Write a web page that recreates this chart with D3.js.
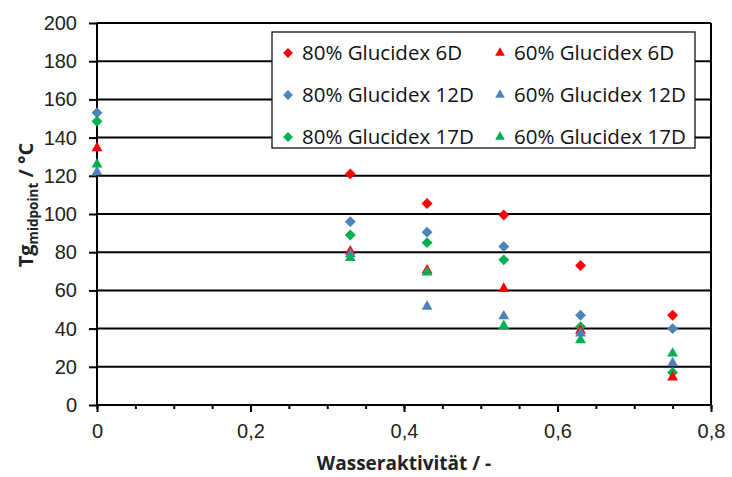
<!DOCTYPE html>
<html lang="de">
<head>
<meta charset="utf-8">
<script src="https://d3js.org/d3.v7.min.js"></script>
<style>
body { margin: 0; background: #fff; }
svg { font-family: "Open Sans", sans-serif; }
</style>
</head>
<body>
<svg width="732" height="477"></svg>
<script>
// data
var aw = [0, 0.33, 0.43, 0.53, 0.63, 0.75];
var tg80_6D  = [null, 121, 105.5, 99.5, 73, 47];
var tg80_12D = [153, 96, 90.5, 83, 47, 40];
var tg80_17D = [148.5, 89, 85, 76, 41, 17];
var tg60_6D  = [134.5, 80.5, 70.5, 61, 39, 14.5];
var tg60_12D = [122, 79, 51.5, 46.5, 37.5, 22];
var tg60_17D = [126, 77, 69.5, 41.5, 34, 27];
var yTicks = [0, 20, 40, 60, 80, 100, 120, 140, 160, 180, 200];
var xTicks = [0, 0.2, 0.4, 0.6, 0.8];

var series = [
  { name: "80% Glucidex 6D",  vals: tg80_6D,  color: "#ff0000", shape: "diamond" },
  { name: "60% Glucidex 6D",  vals: tg60_6D,  color: "#ff0000", shape: "triangle" },
  { name: "80% Glucidex 12D", vals: tg80_12D, color: "#4f81bd", shape: "diamond" },
  { name: "60% Glucidex 12D", vals: tg60_12D, color: "#4f81bd", shape: "triangle" },
  { name: "80% Glucidex 17D", vals: tg80_17D, color: "#00b050", shape: "diamond" },
  { name: "60% Glucidex 17D", vals: tg60_17D, color: "#00b050", shape: "triangle" }
];

var svg = d3.select("svg");
var x = d3.scaleLinear().domain([0, 0.8]).range([97, 711]);
var y = d3.scaleLinear().domain([0, 200]).range([405, 23]);

var fmt = function(d) { return String(d).replace(".", ","); };

// gridlines
svg.append("g").selectAll("line")
  .data(yTicks.slice(1))
  .enter().append("line")
    .attr("x1", x(0)).attr("x2", x(0.8))
    .attr("y1", function(d) { return y(d); })
    .attr("y2", function(d) { return y(d); })
    .attr("stroke", "#000").attr("stroke-width", 2);

// right border
svg.append("line")
  .attr("x1", x(0.8)).attr("x2", x(0.8)).attr("y1", y(200)).attr("y2", y(0))
  .attr("stroke", "#000").attr("stroke-width", 2);

// x axis
var xMinor = svg.append("g").attr("transform", "translate(0," + y(0) + ")")
  .call(d3.axisBottom(x).ticks(20).tickSize(4).tickFormat(""));
var xAxis = svg.append("g").attr("transform", "translate(0," + y(0) + ")")
  .call(d3.axisBottom(x).tickValues(xTicks).tickSize(7).tickPadding(12).tickFormat(fmt));
[xMinor, xAxis].forEach(function(g) {
  g.select(".domain").attr("stroke-width", 2).attr("d", "M" + x(0) + ",0H" + x(0.8));
  g.selectAll(".tick line").attr("stroke-width", 2);
});
xAxis.selectAll("text").attr("font-size", 20).attr("fill", "#222");

// y axis
var yAxis = svg.append("g").attr("transform", "translate(" + x(0) + ",0)")
  .call(d3.axisLeft(y).tickValues(yTicks).tickSize(8).tickPadding(12));
yAxis.select(".domain").attr("stroke-width", 2).attr("d", "M0," + y(200) + "V" + y(0));
yAxis.selectAll(".tick line").attr("stroke-width", 2);
yAxis.selectAll("text").attr("font-size", 20).attr("fill", "#222");

// axis titles
svg.append("text")
  .attr("x", (x(0) + x(0.8)) / 2).attr("y", 470)
  .attr("text-anchor", "middle").attr("font-size", 19).attr("font-weight", "bold")
  .attr("fill", "#222")
  .text("Wasseraktivität  / -");

var yt = svg.append("text")
  .attr("transform", "translate(33," + 205 + ") rotate(-90)")
  .attr("text-anchor", "middle").attr("font-size", 20).attr("font-weight", "bold")
  .attr("fill", "#222");
yt.append("tspan").text("Tg");
yt.append("tspan").attr("font-size", 13.5).attr("dy", 5).text("midpoint");
yt.append("tspan").attr("dy", -5).text(" / °C");

var sym = {
  diamond: d3.symbol().type(d3.symbolDiamond2).size(76),
  triangle: d3.symbol().type(d3.symbolTriangle2).size(85)
};

// markers: diamonds first, then triangles
var order = [0, 2, 4, 1, 3, 5];
order.forEach(function(i) {
  var s = series[i];
  var pts = aw.map(function(a, k) { return { a: a, v: s.vals[k] }; })
    .filter(function(p) { return p.v != null; });
  svg.append("g").selectAll("path")
    .data(pts)
    .enter().append("path")
      .attr("d", sym[s.shape])
      .attr("transform", function(p) { return "translate(" + x(p.a) + "," + y(p.v) + ")"; })
      .attr("fill", s.color);
});

// legend
var lg = svg.append("g");
lg.append("rect")
  .attr("x", 272).attr("y", 32).attr("width", 423).attr("height", 116)
  .attr("fill", "#fff").attr("stroke", "#000").attr("stroke-width", 1.2);
var legSym = {
  diamond: d3.symbol().type(d3.symbolDiamond2).size(62),
  triangle: d3.symbol().type(d3.symbolTriangle2).size(68)
};
series.forEach(function(s, i) {
  var col = i % 2, row = Math.floor(i / 2);
  var lx = col === 0 ? 288 : 500, ly = 53 + row * 42;
  lg.append("path").attr("d", legSym[s.shape])
    .attr("transform", "translate(" + lx + "," + ly + ")").attr("fill", s.color);
  lg.append("text").attr("x", lx + 14).attr("y", ly + 7)
    .attr("font-size", 20.5).attr("fill", "#111").text(s.name);
});
</script>
</body>
</html>
